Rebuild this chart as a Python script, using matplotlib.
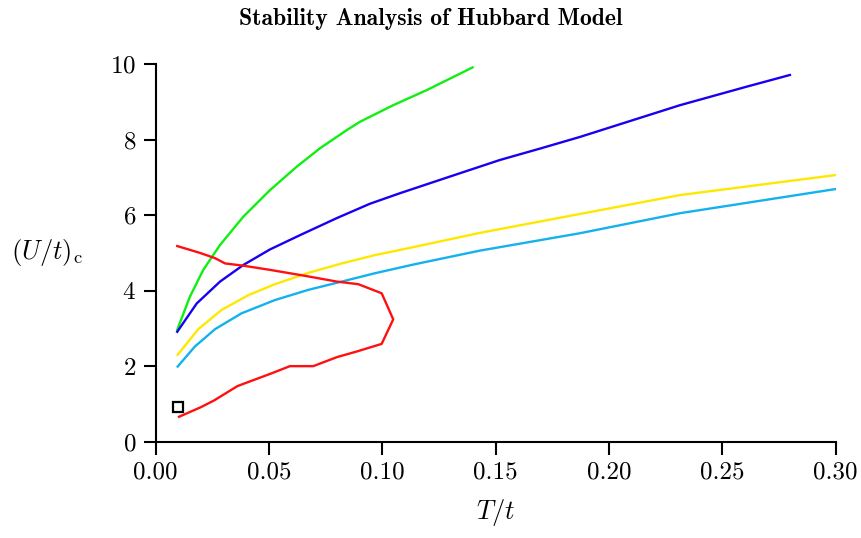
import numpy as np
import matplotlib.pyplot as plt
import matplotlib as mpl
from matplotlib.font_manager import FontProperties
import os

plt.rcParams['font.family'] = 'cmr10'
plt.rcParams['mathtext.fontset'] = 'cm'
plt.rcParams['axes.formatter.use_mathtext'] = True

# curve data (T/t, (U/t)_c)
green_T = [0.0095, 0.0151, 0.021, 0.0284, 0.0387, 0.0504, 0.0622, 0.0725, 0.0843, 0.0901,
           0.1048, 0.1196, 0.1398]
green_U = [2.96, 3.84, 4.55, 5.21, 5.96, 6.66, 7.28, 7.77, 8.25, 8.47,
           8.91, 9.31, 9.91]

blue_T = [0.0095, 0.0181, 0.0284, 0.0387, 0.0504, 0.0637, 0.0799, 0.0945, 0.1078, 0.1298,
          0.1519, 0.1695, 0.1872, 0.2313, 0.2607, 0.2798]
blue_U = [2.91, 3.66, 4.24, 4.68, 5.09, 5.47, 5.92, 6.30, 6.58, 7.02,
          7.46, 7.76, 8.07, 8.91, 9.40, 9.71]

yellow_T = [0.0097, 0.0188, 0.0291, 0.0409, 0.0526, 0.0673, 0.0821, 0.0967, 0.1144, 0.1431,
            0.1872, 0.2313, 0.30]
yellow_U = [2.30, 2.98, 3.49, 3.88, 4.17, 4.47, 4.72, 4.94, 5.16, 5.53,
            6.03, 6.53, 7.06]

cyan_T = [0.0097, 0.0173, 0.0262, 0.0379, 0.0526, 0.0673, 0.0821, 0.0967, 0.1144, 0.1431,
          0.1872, 0.2313, 0.30]
cyan_U = [1.99, 2.52, 2.98, 3.40, 3.75, 4.02, 4.24, 4.46, 4.70, 5.06,
          5.52, 6.05, 6.69]

red_T = [0.0103, 0.0198, 0.0257, 0.036, 0.0404, 0.0507, 0.0592, 0.0695, 0.080, 0.0888, 0.0997,
         0.1048, 0.0997, 0.0894, 0.0799, 0.0651, 0.0504, 0.0387, 0.0306, 0.0262, 0.0195, 0.0095]
red_U = [0.66, 0.91, 1.09, 1.47, 1.57, 1.80, 2.00, 2.00, 2.24, 2.39, 2.59,
         3.24, 3.93, 4.17, 4.24, 4.40, 4.55, 4.66, 4.72, 4.86, 5.00, 5.18]

square_T = [0.01]
square_U = [0.92]

xticks = [0.00, 0.05, 0.10, 0.15, 0.20, 0.25, 0.30]
xticklabels = ['0.00', '0.05', '0.10', '0.15', '0.20', '0.25', '0.30']
yticks = [0, 2, 4, 6, 8, 10]

fig = plt.figure(figsize=(8.62, 5.38), dpi=100)
ax = fig.add_axes([0.1806, 0.179, 0.7889, 0.702])

lw = 1.7
ax.plot(green_T, green_U, color='#11ee11', lw=lw)
ax.plot(blue_T, blue_U, color='#1a00f0', lw=lw)
ax.plot(yellow_T, yellow_U, color='#ffe800', lw=lw)
ax.plot(cyan_T, cyan_U, color='#14b2ec', lw=lw)
ax.plot(red_T, red_U, color='#ff1010', lw=lw)
ax.plot(square_T, square_U, 's', ms=7, mfc='none', mec='black', mew=1.6)

ax.set_xlim(0, 0.30)
ax.set_ylim(0, 10)
ax.set_xticks(xticks)
ax.set_xticklabels(xticklabels)
ax.set_yticks(yticks)

for s in ['top', 'right']:
    ax.spines[s].set_visible(False)
for s in ['left', 'bottom']:
    ax.spines[s].set_linewidth(1.5)
ax.tick_params(direction='out', length=9, width=1.5, labelsize=18, pad=5)

ax.set_xlabel(r'$T/t$', fontsize=19, labelpad=10)
ax.set_ylabel(r'$(U/t)_{\rm c}$', fontsize=19, rotation=0, ha='left', va='center')
ax.yaxis.set_label_coords(-0.213, 0.5)

bold_path = os.path.join(mpl.get_data_path(), 'fonts', 'ttf', 'cmb10.ttf')
fig.text(0.5, 0.985, 'Stability Analysis of Hubbard Model',
         fontproperties=FontProperties(fname=bold_path, size=17), ha='center', va='top')

fig.savefig('out.png', dpi=100)
